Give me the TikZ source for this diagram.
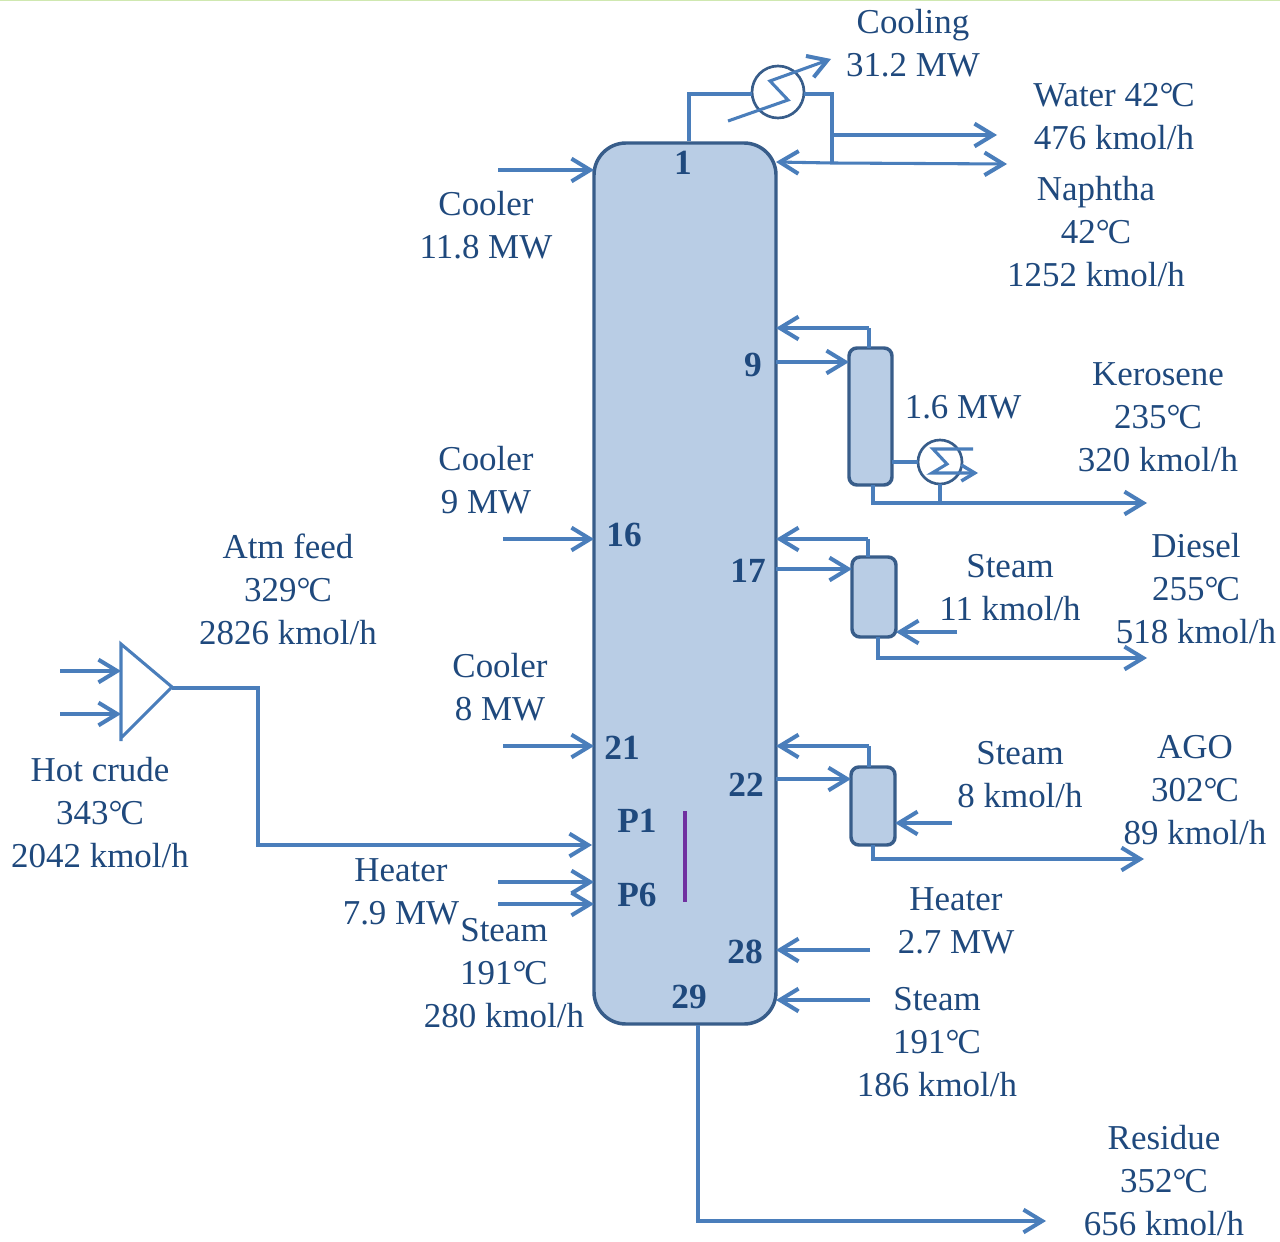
\documentclass[tikz,border=0pt]{standalone}
\usepackage{fontspec}
\setmainfont{Liberation Serif}
\usetikzlibrary{arrows.meta}
\definecolor{pipe}{HTML}{4A7EBB}
\definecolor{vesselfill}{HTML}{B9CDE5}
\definecolor{vesseledge}{HTML}{385D8A}
\definecolor{labeltext}{HTML}{1F497D}
\definecolor{pumpline}{HTML}{7030A0}
\definecolor{topedge}{HTML}{CFE8B0}
\newcommand{\dgC}{°\kern-0.06em C}
\tikzset{
  x=0.75pt,y=-0.75pt,
  tip/.style={-{Straight Barb[length=14pt,width=17pt,line width=3pt]}},
  smalltip/.style={-{Straight Barb[length=10pt,width=12pt,line width=2.6pt]}},
  flow/.style={draw=pipe,line width=2.3pt,line join=miter,tip},
  pipeline/.style={draw=pipe,line width=2.3pt,line join=miter},
  vessel/.style={draw=vesseledge,fill=vesselfill,line width=2.6pt,rounded corners=6pt,inner sep=0pt,outer sep=0pt,minimum width=#1,anchor=north west},
  hx/.style={circle,draw=vesseledge,line width=2pt,inner sep=0pt,outer sep=0pt},
  lbl/.style={text=labeltext,align=center,font=\fontsize{26.2}{32.25}\selectfont,inner sep=0pt},
  tray/.style={text=labeltext,font=\fontsize{26.5}{30}\selectfont\bfseries,inner sep=0pt},
}
\begin{document}
\begin{tikzpicture}
\useasboundingbox (0,0) rectangle (1280,1241);
\fill[white] (0,0) rectangle (1280,1241);
\fill[topedge] (0,0) rectangle (1280,1.5);

% column and strippers
\node[vessel=136.5pt,minimum height=660.75pt,rounded corners=24pt] (col) at (594,143) {};
\node[vessel=32.25pt,minimum height=102.75pt] (sA) at (849,348) {};
\node[vessel=33pt,minimum height=60pt] (sB) at (852,557) {};
\node[vessel=33pt,minimum height=58.5pt] (sC) at (851,767) {};
\node[hx,minimum size=39pt] (hxTop) at (778,92) {};
\node[hx,minimum size=33pt] (hxKero) at (940,462) {};

% free ends and junctions
\coordinate (topOut) at (689,141);
\coordinate (topCorner) at (689,94);
\coordinate (topJ) at (832,94);
\coordinate (refJ) at (832,163);
\coordinate (refEnd) at (776,162);
\coordinate (waterJ) at (832,135);
\coordinate (waterEnd) at (997,135);
\coordinate (naphEnd) at (1007,164);
\coordinate (zA) at (728,121);\coordinate (zB) at (788,100);\coordinate (zC) at (770,81);\coordinate (zD) at (831,59);
\coordinate (coolA) at (498,170);
\coordinate (coolB) at (503,539);
\coordinate (coolC) at (503,746);
\coordinate (heatL) at (498,882);
\coordinate (steamL) at (498,904);
\coordinate (heatR) at (870,950);
\coordinate (steamR) at (870,1000);
\coordinate (resTop) at (698,1025);
\coordinate (resCorner) at (698,1221);
\coordinate (resEnd) at (1046,1221);
\coordinate (aTop) at (869,348);\coordinate (aBend) at (869,328);
\coordinate (aDraw) at (776,362);
\coordinate (aBot) at (873,485);\coordinate (aBend2) at (873,503);\coordinate (aEnd) at (1147,503);
\coordinate (hxJ) at (940,503);
\coordinate (sgA) at (973,449);\coordinate (sgB) at (933,449);\coordinate (sgC) at (947,464);\coordinate (sgD) at (932,473);\coordinate (sgE) at (978,473);
\coordinate (bTop) at (868,557);\coordinate (bBend) at (868,539);
\coordinate (bDraw) at (776,569);
\coordinate (bSteam) at (957,632);
\coordinate (bBot) at (878,637);\coordinate (bBend2) at (878,658);\coordinate (bEnd) at (1147,658);
\coordinate (cTop) at (869,767);\coordinate (cBend) at (869,746);
\coordinate (cDraw) at (776,779);
\coordinate (cSteam) at (952,823);
\coordinate (cBot) at (873,845);\coordinate (cBend2) at (873,859);\coordinate (cEnd) at (1144,859);
\coordinate (mixA) at (121,644);\coordinate (mixB) at (172,687);\coordinate (mixC) at (121,738);\coordinate (mixD) at (121,741);
\coordinate (crudeA) at (60,671);\coordinate (crudeB) at (60,714);
\coordinate (feedBend) at (258,688);\coordinate (feedBend2) at (258,845);\coordinate (feedEnd) at (592,845);
\coordinate (purpA) at (685,811);\coordinate (purpB) at (685,902);

% overhead
\draw[pipeline] (topOut) -- (topCorner) -- (hxTop.west |- topCorner);
\draw[pipeline] (hxTop.east |- topJ) -- (topJ) -- (refJ);
\draw[flow] (zA) -- (zB) -- (zC) -- (zD);
\draw[flow] (waterJ) -- (waterEnd);
\draw[flow] (refJ) -- (naphEnd);
\draw[flow] (refJ) -- (refEnd);

% column side arrows
\draw[flow] (coolA) -- (coolA -| col.west);
\draw[flow] (coolB) -- (coolB -| col.west);
\draw[flow] (coolC) -- (coolC -| col.west);
\draw[flow] (heatL) -- (heatL -| col.west);
\draw[flow] (steamL) -- (steamL -| col.west);
\draw[flow] (heatR) -- (heatR -| col.east);
\draw[flow] (steamR) -- (steamR -| col.east);
\draw[flow] (resTop) -- (resCorner) -- (resEnd);

% kerosene stripper
\draw[pipeline] (aTop) -- (aBend);
\draw[flow] (aBend) -- (aBend -| col.east);
\draw[flow] (aDraw) -- (aDraw -| sA.west);
\draw[flow] (aBot) -- (aBend2) -- (aEnd);
\draw[pipeline] (sA.east |- hxKero) -- (hxKero.west);
\draw[pipeline] (hxKero.south) -- (hxJ);
\draw[pipeline,smalltip] (sgA) -- (sgB) -- (sgC) -- (sgD) -- (sgE);

% diesel stripper
\draw[pipeline] (bTop) -- (bBend);
\draw[flow] (bBend) -- (bBend -| col.east);
\draw[flow] (bDraw) -- (bDraw -| sB.west);
\draw[flow] (bSteam) -- (bSteam -| sB.east);
\draw[flow] (bBot) -- (bBend2) -- (bEnd);

% AGO stripper
\draw[pipeline] (cTop) -- (cBend);
\draw[flow] (cBend) -- (cBend -| col.east);
\draw[flow] (cDraw) -- (cDraw -| sC.west);
\draw[flow] (cSteam) -- (cSteam -| sC.east);
\draw[flow] (cBot) -- (cBend2) -- (cEnd);

% mixer and feed
\draw[pipeline] (mixD) -- (mixA) -- (mixB) -- (mixC);
\draw[flow] (crudeA) -- (crudeA -| mixA);
\draw[flow] (crudeB) -- (crudeB -| mixA);
\draw[flow] (mixB |- feedBend) -- (feedBend) -- (feedBend2) -- (feedEnd);

% pump-around marker
\draw[pumpline,line width=2.6pt] (purpA) -- (purpB);

% tray labels
\node[tray] (t1) at (683,163) {1};
\node[tray] (t9) at (753,365) {9};
\node[tray] (t16) at (624,535) {16};
\node[tray] (t17) at (748,571) {17};
\node[tray] (t21) at (622,748) {21};
\node[tray] (t22) at (746,785) {22};
\node[tray] (tP1) at (637,821) {P1};
\node[tray] (tP6) at (637,895) {P6};
\node[tray] (t28) at (745,952) {28};
\node[tray] (t29) at (689,997) {29};

% stream labels
\node[lbl] (lCooling) at (913,43) {Cooling\\31.2 MW};
\node[lbl] (lWater) at (1114,117) {Water 42\dgC\\476 kmol/h};
\node[lbl] (lNaphtha) at (1096,232) {Naphtha\\42\dgC\\1252 kmol/h};
\node[lbl] (lCoolA) at (486,225) {Cooler\\11.8 MW};
\node[lbl] (lKero) at (1158,417) {Kerosene\\235\dgC\\320 kmol/h};
\node[lbl] (lHxK) at (963,407) {1.6 MW};
\node[lbl] (lCoolB) at (486,480) {Cooler\\9 MW};
\node[lbl] (lSteamB) at (1010,588) {Steam\\11 kmol/h};
\node[lbl] (lDiesel) at (1196,589) {Diesel\\255\dgC\\518 kmol/h};
\node[lbl] (lAtm) at (288,589) {Atm feed\\329\dgC\\2826 kmol/h};
\node[lbl] (lCoolC) at (500,687) {Cooler\\8 MW};
\node[lbl] (lSteamC) at (1020,775) {Steam\\8 kmol/h};
\node[lbl] (lAGO) at (1195,790) {AGO\\302\dgC\\89 kmol/h};
\node[lbl] (lCrude) at (100,813) {Hot crude\\343\dgC\\2042 kmol/h};
\node[lbl] (lHeatL) at (401,892) {Heater\\7.9 MW};
\node[lbl] (lSteamL) at (504,973) {Steam\\191\dgC\\280 kmol/h};
\node[lbl] (lHeatR) at (956,921) {Heater\\2.7 MW};
\node[lbl] (lSteamR) at (937,1042) {Steam\\191\dgC\\186 kmol/h};
\node[lbl] (lRes) at (1164,1180) {Residue\\352\dgC\\\smash{656 kmol/h}};
\end{tikzpicture}
\end{document}
